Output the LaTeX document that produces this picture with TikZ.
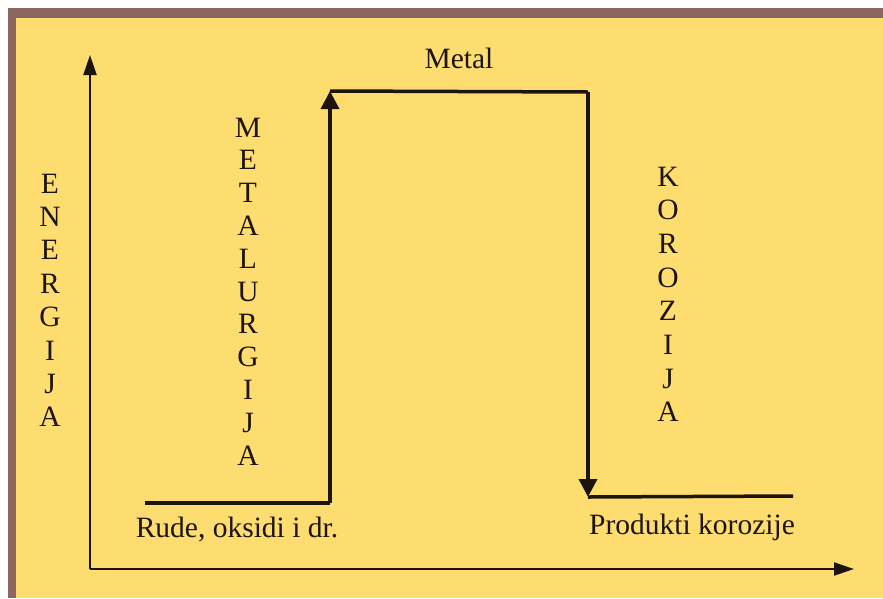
\documentclass[tikz,border=0pt]{standalone}
\usepackage{fontspec}
\setmainfont{Liberation Serif}
\usetikzlibrary{arrows.meta, positioning}
\definecolor{pozadina}{RGB}{253,221,112}
\definecolor{okvir}{RGB}{138,104,96}
\definecolor{tinta}{RGB}{30,20,14}

\begin{document}
\begin{tikzpicture}[x=1pt, y=-1pt,
        lbl/.style={font=\fontsize{29.5}{34}\selectfont, text=tinta, inner sep=0pt, anchor=base},
        axis/.style={draw=tinta, line width=2.2pt, -{Triangle[length=20pt,width=13pt]}},
        level/.style={draw=tinta, line width=3.5pt},
        jump/.style={draw=tinta, line width=3.5pt, -{Triangle[length=18pt,width=18pt]}}]
    \useasboundingbox (0,0) rectangle (883,598);
    \fill[white] (0,0) rectangle (883,598);
    \fill[okvir] (8,8) rectangle (883,598);
    \fill[pozadina] (16,18) rectangle (883,598);

    % axes
    \coordinate (o) at (90,569);
    \coordinate (ytop) at (90,55);
    \coordinate (xend) at (854,569);
    \path[axis] (o) -- (ytop);
    \path[axis] (o) -- (xend);

    % energy levels
    \coordinate (rude0) at (145,503);
    \coordinate (rude1) at (330,503);
    \coordinate (met0) at (330,91);
    \coordinate (met1) at (588,92);
    \coordinate (kor0) at (588,497);
    \coordinate (kor1) at (793,496);
    \path[level] (rude0) -- (rude1);
    \path[level] (met0) -- (met1);
    \path[level] (kor0) -- (kor1);
    \path[jump] (rude1) -- (met0);
    \path[jump] (met1) -- (kor0);

    \node[lbl] (metal) at (459,68) {Metal};
    \node[lbl] (rude) at (237,537) {Rude, oksidi i dr.};
    \node[lbl] (produkti) at (692,534) {Produkti korozije};

    % vertical words
    \foreach [count=\i] \c in {E,N,E,R,G,I,J,A}
        \node[lbl] (en\i) at (50,{193+33.4*(\i-1)}) {\c};
    \foreach [count=\i] \c in {M,E,T,A,L,U,R,G,I,J,A}
        \node[lbl] (mt\i) at (248,{137+32.8*(\i-1)}) {\c};
    \foreach [count=\i] \c in {K,O,R,O,Z,I,J,A}
        \node[lbl] (kr\i) at (668,{186+33.7*(\i-1)}) {\c};
\end{tikzpicture}
\end{document}
